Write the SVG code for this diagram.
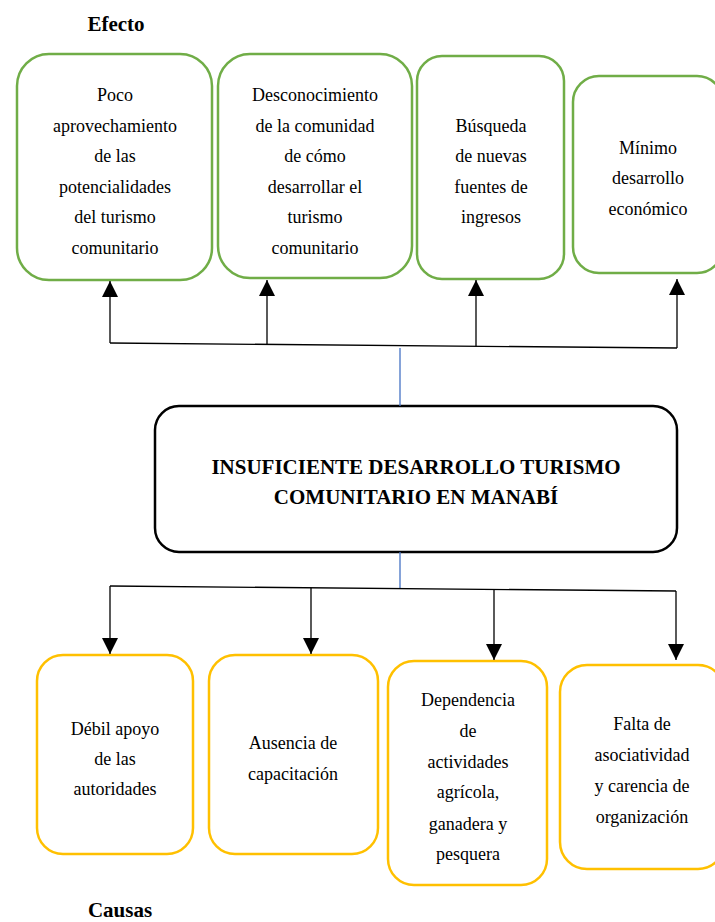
<svg xmlns="http://www.w3.org/2000/svg" width="715" height="922" viewBox="0 0 715 922">
<style>
  text{font-family:"Liberation Serif","Times New Roman","DejaVu Serif",serif;fill:#000;text-anchor:middle}
  .t{font-size:18px}
  .h{font-size:21px;font-weight:bold}
  .eff{fill:#fff;stroke:#70AD47;stroke-width:2.5}
  .cau{fill:#fff;stroke:#FFC000;stroke-width:2.5}
  .main{fill:#fff;stroke:#000;stroke-width:2.5}
  .ln{stroke:#000;stroke-width:1.3;fill:none}
  .bl{stroke:#4472C4;stroke-width:1.3;fill:none}
</style>
<defs>
  <marker id="ah" markerUnits="userSpaceOnUse" markerWidth="16" markerHeight="16" viewBox="0 0 14 14" refX="14" refY="7" orient="auto">
    <path d="M0,0 L14,7 L0,14 Z" fill="#000"/>
  </marker>
</defs>
<rect width="715" height="922" fill="#fff"/>

<text class="h" x="116" y="31">Efecto</text>
<text class="h" x="120" y="917">Causas</text>

<g id="efecto1">
  <rect class="eff" x="17" y="54" width="195" height="226" rx="32"/>
  <text class="t" x="115" y="101">Poco</text>
  <text class="t" x="115" y="132">aprovechamiento</text>
  <text class="t" x="115" y="162">de las</text>
  <text class="t" x="115" y="193">potencialidades</text>
  <text class="t" x="115" y="223">del turismo</text>
  <text class="t" x="115" y="254">comunitario</text>
</g>
<g id="efecto2">
  <rect class="eff" x="218" y="54" width="194" height="224" rx="32"/>
  <text class="t" x="315" y="101">Desconocimiento</text>
  <text class="t" x="315" y="132">de la comunidad</text>
  <text class="t" x="315" y="162">de cómo</text>
  <text class="t" x="315" y="193">desarrollar el</text>
  <text class="t" x="315" y="223">turismo</text>
  <text class="t" x="315" y="254">comunitario</text>
</g>
<g id="efecto3">
  <rect class="eff" x="417" y="56" width="147" height="223" rx="25"/>
  <text class="t" x="491" y="132">Búsqueda</text>
  <text class="t" x="491" y="162">de nuevas</text>
  <text class="t" x="491" y="193">fuentes de</text>
  <text class="t" x="491" y="223">ingresos</text>
</g>
<g id="efecto4">
  <rect class="eff" x="573" y="76" width="150" height="197" rx="26"/>
  <text class="t" x="648" y="154">Mínimo</text>
  <text class="t" x="648" y="184">desarrollo</text>
  <text class="t" x="648" y="215">económico</text>
</g>

<g id="problema">
  <rect class="main" x="155" y="406" width="522" height="146" rx="24"/>
  <text class="h" x="416" y="474">INSUFICIENTE DESARROLLO TURISMO</text>
  <text class="h" x="416" y="504">COMUNITARIO EN MANABÍ</text>
</g>

<g id="causa1">
  <rect class="cau" x="37" y="655" width="156" height="199" rx="26"/>
  <text class="t" x="115" y="735">Débil apoyo</text>
  <text class="t" x="115" y="765">de las</text>
  <text class="t" x="115" y="795">autoridades</text>
</g>
<g id="causa2">
  <rect class="cau" x="209" y="655" width="169" height="199" rx="26"/>
  <text class="t" x="293" y="749">Ausencia de</text>
  <text class="t" x="293" y="780">capacitación</text>
</g>
<g id="causa3">
  <rect class="cau" x="388" y="661" width="159" height="224" rx="26"/>
  <text class="t" x="468" y="706">Dependencia</text>
  <text class="t" x="468" y="737">de</text>
  <text class="t" x="468" y="768">actividades</text>
  <text class="t" x="468" y="798">agrícola,</text>
  <text class="t" x="468" y="830">ganadera y</text>
  <text class="t" x="468" y="860">pesquera</text>
</g>
<g id="causa4">
  <rect class="cau" x="560" y="665" width="165" height="204" rx="27"/>
  <text class="t" x="642" y="730">Falta de</text>
  <text class="t" x="642" y="761">asociatividad</text>
  <text class="t" x="642" y="792">y carencia de</text>
  <text class="t" x="642" y="823">organización</text>
</g>

<g id="conectores">
  <line class="bl" x1="400" y1="348" x2="400" y2="406"/>
  <line class="bl" x1="400" y1="552" x2="400" y2="589"/>
  <polyline class="ln" points="110,343 677,348"/>
  <line class="ln" x1="110" y1="343" x2="110" y2="281" marker-end="url(#ah)"/>
  <line class="ln" x1="267" y1="344.4" x2="267" y2="280" marker-end="url(#ah)"/>
  <line class="ln" x1="476" y1="346.2" x2="476" y2="280" marker-end="url(#ah)"/>
  <line class="ln" x1="677" y1="348" x2="677" y2="279" marker-end="url(#ah)"/>
  <polyline class="ln" points="110,586 676,591"/>
  <line class="ln" x1="110" y1="586" x2="110" y2="654" marker-end="url(#ah)"/>
  <line class="ln" x1="311" y1="587.8" x2="311" y2="654" marker-end="url(#ah)"/>
  <line class="ln" x1="494" y1="589.4" x2="494" y2="660" marker-end="url(#ah)"/>
  <line class="ln" x1="676" y1="591" x2="676" y2="660" marker-end="url(#ah)"/>
</g>
</svg>
